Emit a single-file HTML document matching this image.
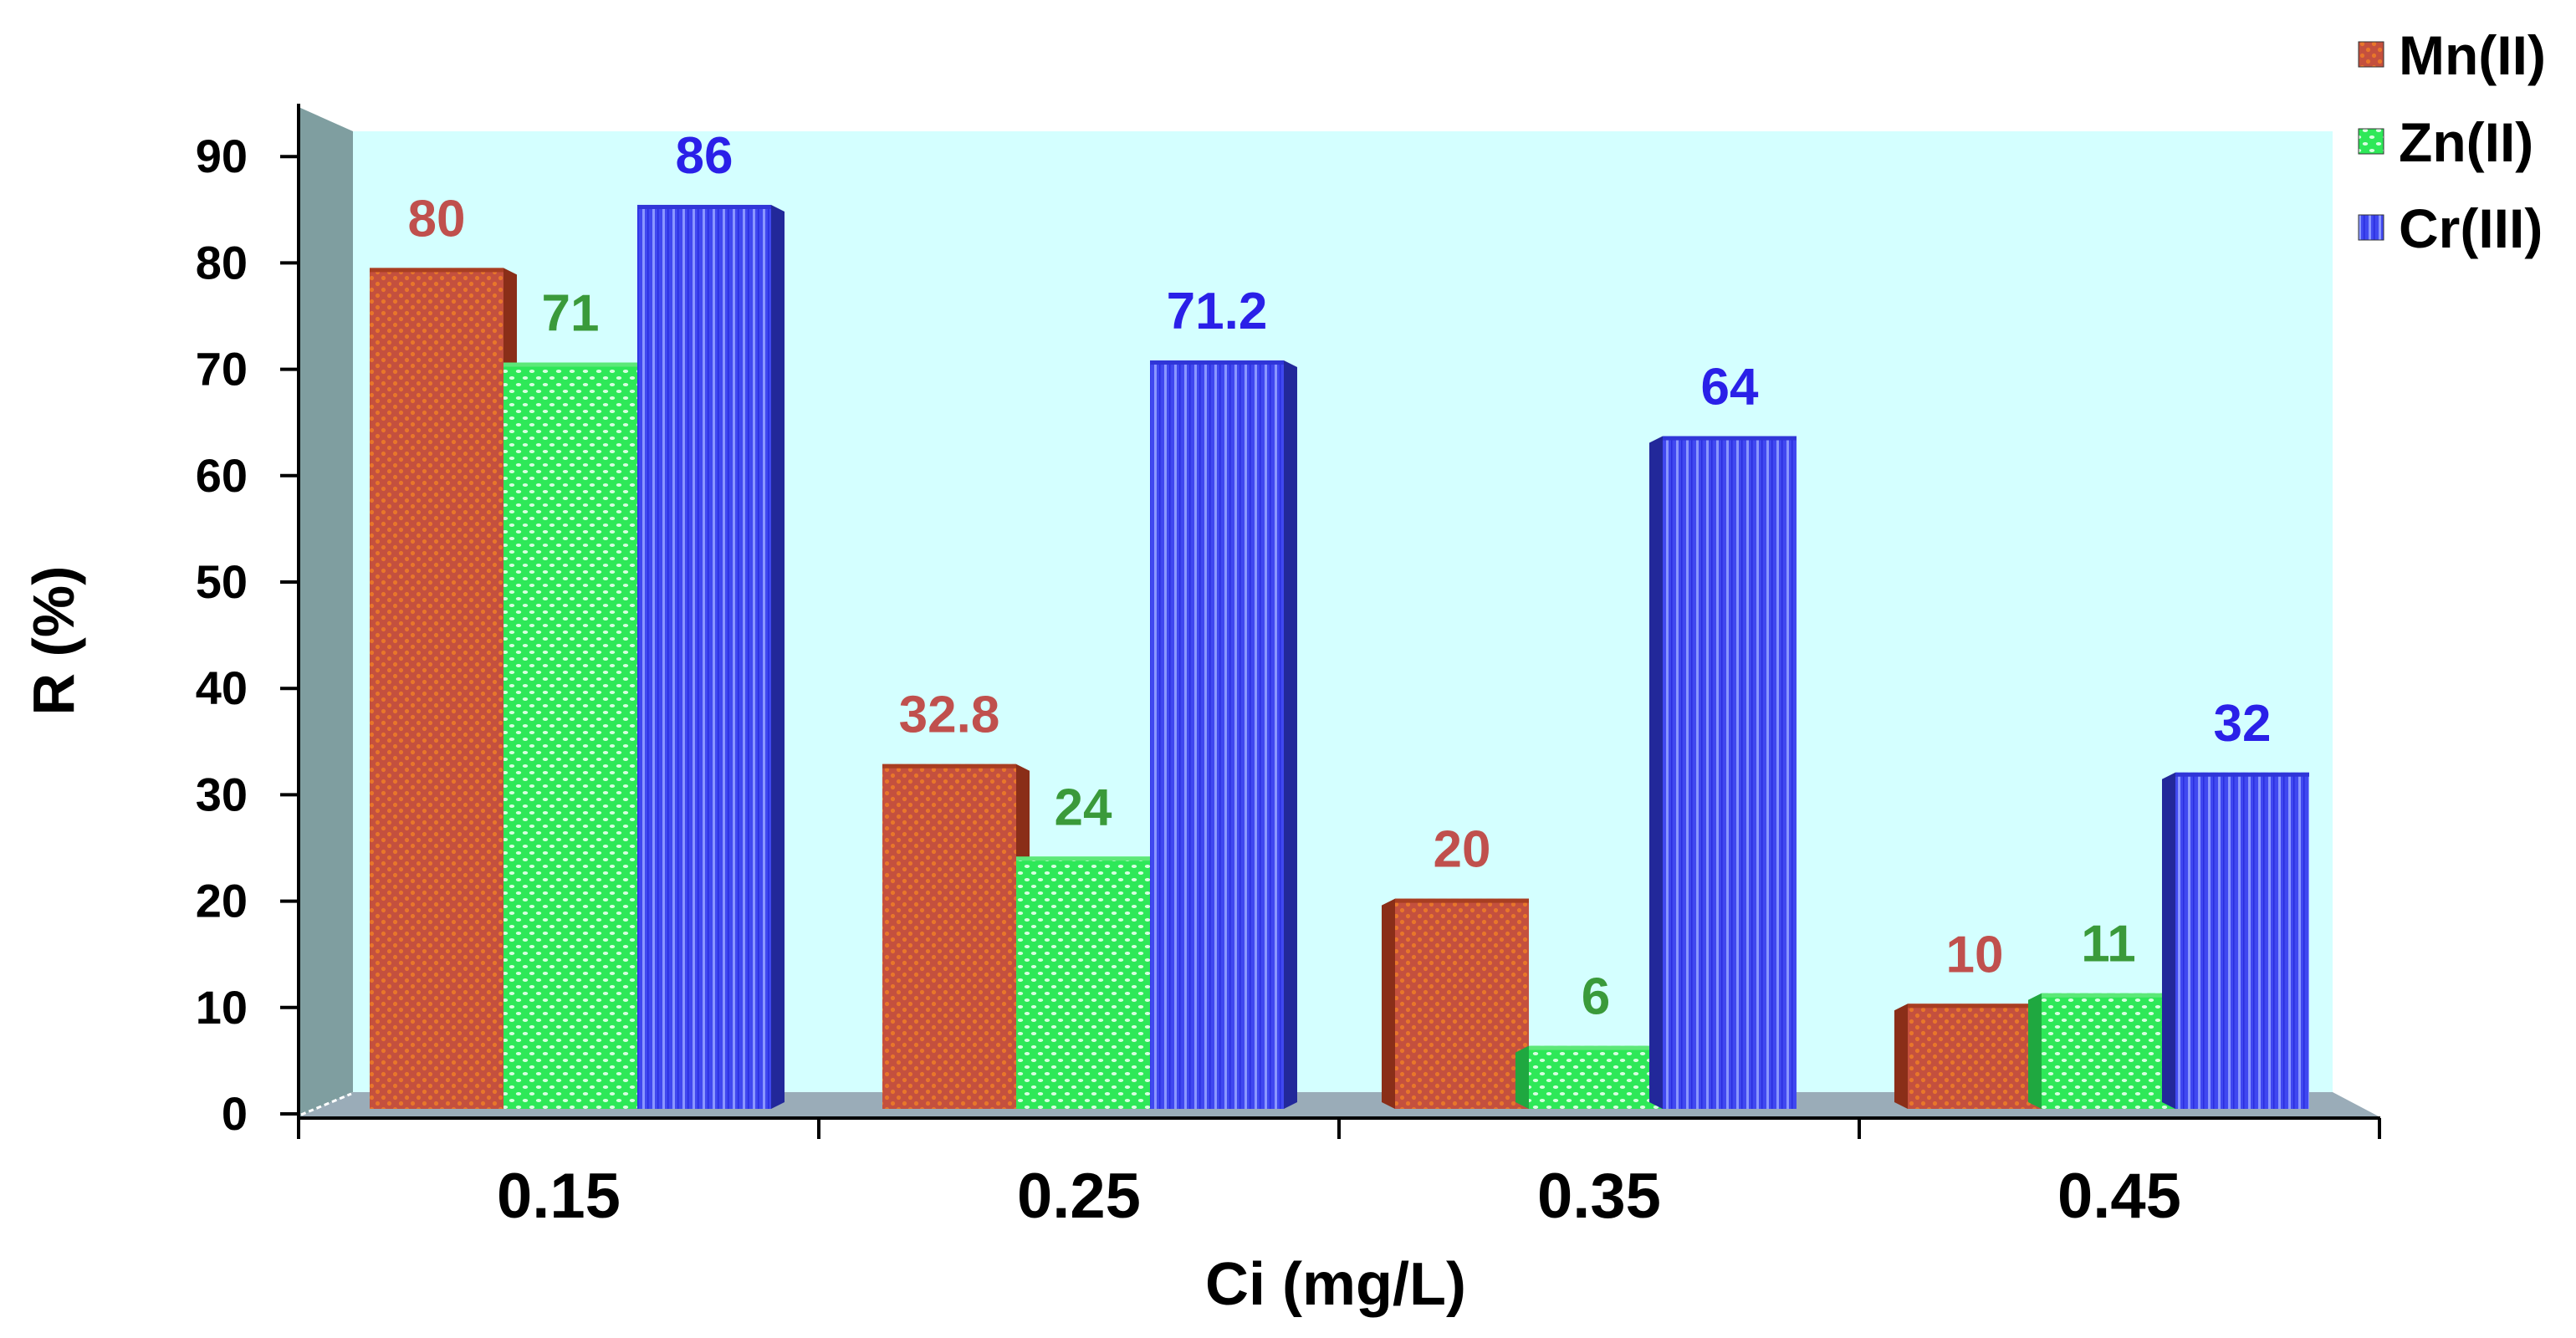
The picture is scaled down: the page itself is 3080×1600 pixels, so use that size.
<!DOCTYPE html>
<html><head><meta charset="utf-8"><style>
html,body{margin:0;padding:0;background:#fff;}
svg{display:block;font-family:"Liberation Sans",Arial,sans-serif;font-weight:bold;}
</style></head><body>
<svg id="chart" width="3080" height="1600" viewBox="0 0 3080 1600" xmlns="http://www.w3.org/2000/svg">
<defs>
<pattern id="pMn" width="14" height="14" patternUnits="userSpaceOnUse">
<rect width="14" height="14" fill="#c4503e"/><circle cx="3.5" cy="3.5" r="2.6" fill="#e8762a"/><circle cx="10.5" cy="10.5" r="2.6" fill="#e8762a"/></pattern>
<pattern id="pZn" width="16" height="16" patternUnits="userSpaceOnUse">
<rect width="16" height="16" fill="#2ee858"/><ellipse cx="4" cy="4" rx="3.2" ry="2" fill="#d8ffe0"/><ellipse cx="12" cy="12" rx="3.2" ry="2" fill="#d8ffe0"/></pattern>
<pattern id="pCr" width="12" height="12" patternUnits="userSpaceOnUse">
<rect width="12" height="12" fill="#4048f0"/><rect x="0" width="3" height="12" fill="#8a96ff"/><rect x="6" width="1.5" height="12" fill="#2a2ee0"/></pattern>
</defs>
<g id="g"></g>
</svg>
<script>
const categories = ["0.15","0.25","0.35","0.45"];
const seriesNames = ["Mn(II)","Zn(II)","Cr(III)"];
const mnValues = [80,32.8,20,10];
const znValues = [71,24,6,11];
const crValues = [86,71.2,64,32];
const mnLabels = ["80","32.8","20","10"];
const znLabels = ["71","24","6","11"];
const crLabels = ["86","71.2","64","32"];
const yTicks = [0,10,20,30,40,50,60,70,80,90];

const NS="http://www.w3.org/2000/svg";
const g=document.getElementById('g');
function mk(tag,attrs,parent){const e=document.createElementNS(NS,tag);for(const k in attrs)e.setAttribute(k,attrs[k]);(parent||g).appendChild(e);return e;}

const axisX=357, axisY0=1332, tickStep=127.2;
const barBase=1326, barUnit=12.57;
const catStart=357, catW=622, barGroupW=613, barOff=85, barW=160, depth=16;
function yTick(v){return axisY0 - v/10*tickStep;}
function yBar(v){return barBase - v*barUnit;}
function xCat(i){return catStart + i*catW;}
function xGroup(i){return catStart + barOff + i*barGroupW;}

let e;
e=mk('rect',{x:422,y:157,width:2367,height:1150,fill:"#d4ffff"});


e=mk('polygon',{points:"357,128 422,157 422,1306 357,1336",fill:"#7f9ea0"});


e=mk('polygon',{points:"422,1306 2789,1306 2846,1336 357,1336",fill:"#9aacb8"});


mk('line',{x1:360,y1:1333,x2:420,y2:1308,stroke:"#fff","stroke-width":3,"stroke-dasharray":"6 4"});

e=mk('line',{x1:axisX,y1:124,x2:axisX,y2:1346,stroke:"#000","stroke-width":4});


e=mk('line',{x1:axisX,y1:1337,x2:2846,y2:1337,stroke:"#000","stroke-width":4});



yTicks.forEach(v=>{
  const y=yTick(v);
  mk('line',{x1:335,y1:y,x2:axisX,y2:y,stroke:"#000","stroke-width":4});
  const t=mk('text',{x:296,y:y+19,"text-anchor":"end","font-size":56,fill:"#000"});
  t.textContent=v;
  
  
});
for(let i=0;i<=categories.length;i++){
  const x=xCat(i);
  mk('line',{x1:x,y1:1337,x2:x,y2:1362,stroke:"#000","stroke-width":4});
}
categories.forEach((c,i)=>{
  const t=mk('text',{x:xCat(i)+catW/2,y:1456,"text-anchor":"middle","font-size":76,fill:"#000"});
  t.textContent=c;
  
  
});

const series=[
 {vals:mnValues,labs:mnLabels,fill:"url(#pMn)",side:"#8a2e18",top:"#a83e22",lab:"#c0504d"},
 {vals:znValues,labs:znLabels,fill:"url(#pZn)",side:"#1fa840",top:"#5ce878",lab:"#3a9a3a"},
 {vals:crValues,labs:crLabels,fill:"url(#pCr)",side:"#22289a",top:"#3036d8",lab:"#2a20e8"}
];
series.forEach((s,si)=>{
  s.vals.forEach((v,i)=>{
    const x=xGroup(i)+si*barW;
    const y=yBar(v);
    const h=barBase-y;
    const right = i<2;
    const side=mk('polygon',{points: right
      ? `${x+barW},${y} ${x+barW+depth},${y+8} ${x+barW+depth},${barBase-8} ${x+barW},${barBase}`
      : `${x},${y} ${x-depth},${y+8} ${x-depth},${barBase-8} ${x},${barBase}`, fill:s.side});
    
    
    const r=mk('rect',{x:x,y:y,width:barW,height:h,fill:s.fill});
    
    
    mk('rect',{x:x,y:y,width:barW,height:5,fill:s.top});
    const t=mk('text',{x:x+barW/2,y:y-38,"text-anchor":"middle","font-size":62,fill:s.lab});
    t.textContent=s.labs[i];
    
    
  });
});

e=mk('text',{x:1597,y:1560,"text-anchor":"middle","font-size":72,fill:"#000"});
e.textContent="Ci (mg/L)";


e=mk('text',{x:0,y:0,"text-anchor":"middle","font-size":70,fill:"#000",transform:"translate(88,766) rotate(-90)"});
e.textContent="R (%)";



const legFills=["url(#pMn)","url(#pZn)","url(#pCr)"];
const legY=[65,169,272];
seriesNames.forEach((n,i)=>{
  const sq=mk('rect',{x:2820,y:legY[i]-15,width:30,height:30,fill:legFills[i],stroke:"#333","stroke-width":1});
  
  
  const t=mk('text',{x:2868,y:legY[i]+24,"font-size":66,fill:"#000"});
  t.textContent=n;
  
  
});
</script>
</body></html>
